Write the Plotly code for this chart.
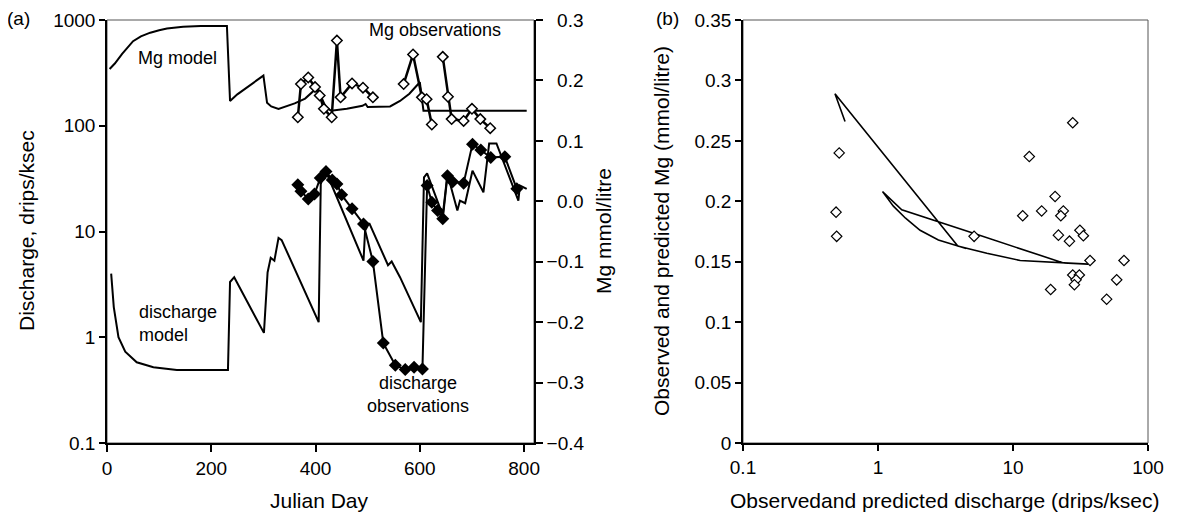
import plotly.graph_objects as go

# ---------------- data ----------------
# Panel (a): discharge model (left log axis)
dis_model_day = [8, 13, 22, 35, 57, 89, 134, 232, 236, 244, 301, 308, 314, 321, 329, 335,
                 406, 410, 418, 492, 495, 503, 539, 546, 562, 602, 608, 614, 644, 653,
                 672, 677, 687, 701, 722, 733, 747, 789, 792, 805]
dis_model_val = [4.0, 1.93, 1.0, 0.73, 0.58, 0.52, 0.49, 0.49, 3.33, 3.7, 1.1, 4.1, 5.65, 5.3, 8.7, 8.3,
                 1.39, 28, 39, 5.3, 10.2, 12, 4.8, 5.2, 3.7, 1.39, 32.5, 35.5, 14.2, 35,
                 15.8, 19.6, 18.5, 37.6, 23.5, 68, 68, 19.6, 27.2, 25.3]

# Panel (a): discharge observations (left log axis)
dis_obs_day = [366, 372, 386, 398, 409, 420, 432, 441, 450, 470, 492, 510, 530, 553, 572, 589, 605,
               614, 623, 634, 644, 653, 663, 684, 701, 717, 736, 763, 786]
dis_obs_val = [27.7, 24, 20.3, 22.6, 32, 37, 30.7, 28.2, 22.2, 16.4, 11.8, 5.2, 0.88, 0.545, 0.495, 0.52, 0.5,
               27.2, 18.9, 15.8, 13.2, 33.7, 29.6, 28.6, 67, 59, 50, 51, 25.3]

# Panel (a): Mg model (right axis)
mg_model_day = [5, 15, 29, 40, 50, 65, 83, 100, 115, 146, 180, 230, 236, 250, 270, 300, 307, 315,
                329, 360, 380, 403, 420, 430, 460, 490, 496, 500, 543, 562, 580, 600, 607, 650,
                700, 750, 805]
mg_model_val = [0.219, 0.228, 0.244, 0.256, 0.265, 0.273, 0.279, 0.283, 0.286, 0.289, 0.290, 0.290,
                0.166, 0.177, 0.190, 0.208, 0.163, 0.157, 0.153, 0.162, 0.170, 0.188, 0.155, 0.150,
                0.153, 0.158, 0.161, 0.156, 0.157, 0.166, 0.178, 0.197, 0.150, 0.150, 0.151, 0.150,
                0.150]

# Panel (a): Mg observations (right axis); None = gap in the record
mg_obs_day = [366, 372, 386, 399, 408, 416, 431, 441, 448, 470, 491, 510, None,
              569, 587, 604, 613, 623, None, 644, 654, 661, 684, 700, 716, 735]
mg_obs_val = [0.139, 0.194, 0.205, 0.189, 0.175, 0.153, 0.139, 0.266, 0.172, 0.195, 0.188, 0.172, None,
              0.194, 0.243, 0.172, 0.169, 0.127, None, 0.239, 0.173, 0.136, 0.133, 0.153, 0.136, 0.121]

# Panel (b): observed discharge vs Mg
b_obs_q = [0.516, 0.489, 0.494, 5.15, 13.2, 11.8, 16.3, 20.5, 23.6, 22.6, 27.7, 21.7, 26.2, 31.3,
           33.2, 37.2, 66.4, 27.7, 31, 29.3, 28.5, 58.6, 19, 49.4]
b_obs_mg = [0.240, 0.191, 0.171, 0.171, 0.237, 0.188, 0.192, 0.204, 0.192, 0.188, 0.265, 0.172,
            0.167, 0.176, 0.1715, 0.151, 0.151, 0.139, 0.139, 0.135, 0.131, 0.135, 0.127, 0.119]

# Panel (b): predicted discharge vs Mg (model path)
b_model_q = [0.57, 0.48, 3.9, 6.4, 11.3, 25, 36, 23.6, 5.1, 1.5, 1.08, 1.3, 1.6, 2.05, 2.8, 3.6, 4.5]
b_model_mg = [0.266, 0.289, 0.163, 0.157, 0.151, 0.1487, 0.148, 0.149, 0.1735, 0.193, 0.208,
              0.196, 0.186, 0.176, 0.168, 0.164, 0.161]

# tick labels
a_x_ticks = [0, 200, 400, 600, 800]
a_y_ticks = [0.1, 1, 10, 100, 1000]
a_y_ticktext = ["0.1", "1", "10", "100", "1000"]
a_y2_ticks = [-0.4, -0.3, -0.2, -0.1, 0.0, 0.1, 0.2, 0.3]
a_y2_ticktext = ["\u22120.4", "\u22120.3", "\u22120.2", "\u22120.1", "0.0", "0.1", "0.2", "0.3"]
b_x_ticks = [0.1, 1, 10, 100]
b_x_ticktext = ["0.1", "1", "10", "100"]

# right-align the right-axis labels (pad the unsigned ones by about a minus sign's width)
a_y2_labels = [t if t.startswith("\u2212") else "\u00a0\u00a0" + t for t in a_y2_ticktext]

# ---------------- layout helpers ----------------
# the page body adds an 8 px margin, so the figure is drawn 8 px in from the window corner
OX, OY = 8, 8
W, H = 1177 - OX, 514 - OY


def px(X):
    return (X - OX) / W


def py(Y):
    return 1 - (Y - OY) / H


FONT = "Liberation Sans, Arial, sans-serif"
TICKF = dict(family=FONT, size=19, color="black")
ydom = [py(443), py(20)]

fig = go.Figure()

fig.add_trace(go.Scatter(x=dis_model_day, y=dis_model_val, mode="lines", xaxis="x", yaxis="y",
                         line=dict(color="black", width=2), name="discharge model"))
fig.add_trace(go.Scatter(x=dis_obs_day, y=dis_obs_val, mode="lines+markers", xaxis="x", yaxis="y",
                         line=dict(color="black", width=2),
                         marker=dict(symbol="diamond", size=10, color="black"),
                         name="discharge observations"))
fig.add_trace(go.Scatter(x=mg_model_day, y=mg_model_val, mode="lines", xaxis="x", yaxis="y2",
                         line=dict(color="black", width=2), name="Mg model"))
fig.add_trace(go.Scatter(x=mg_obs_day, y=mg_obs_val, mode="lines+markers", xaxis="x", yaxis="y2",
                         connectgaps=False, line=dict(color="black", width=2.5),
                         marker=dict(symbol="diamond", size=8, color="white",
                                     line=dict(color="black", width=1.5)),
                         name="Mg observations"))
fig.add_trace(go.Scatter(x=b_model_q, y=b_model_mg, mode="lines", xaxis="x2", yaxis="y3",
                         line=dict(color="black", width=1.6), name="model"))
fig.add_trace(go.Scatter(x=b_obs_q, y=b_obs_mg, mode="markers", xaxis="x2", yaxis="y3",
                         marker=dict(symbol="diamond", size=8, color="white",
                                     line=dict(color="black", width=1.2)),
                         name="observed"))

axis_common = dict(showgrid=False, zeroline=False, showline=True, linecolor="black", linewidth=1.5,
                   ticks="outside", tickcolor="black", tickwidth=1.5, tickfont=TICKF,
                   automargin=False)

fig.update_layout(
    width=W, height=H, showlegend=False,
    margin=dict(l=0, r=0, t=0, b=0, pad=0, autoexpand=False),
    paper_bgcolor="white", plot_bgcolor="white",
    font=dict(family=FONT, color="black"),
    xaxis=dict(domain=[px(107), px(534)], range=[0, 819], tickvals=a_x_ticks, anchor="y",
               ticklen=7, **axis_common),
    yaxis=dict(domain=ydom, type="log", range=[-1, 3], tickvals=a_y_ticks, ticktext=a_y_ticktext,
               anchor="x", ticklen=6, **axis_common),
    yaxis2=dict(overlaying="y", side="right", anchor="x", range=[-0.4, 0.3], tickvals=a_y2_ticks,
                ticktext=a_y2_labels, ticklen=7, **axis_common),
    # inner half of the crossing ticks on the right axis of panel (a)
    yaxis4=dict(overlaying="y", side="right", anchor="x", range=[-0.4, 0.3], tickvals=a_y2_ticks,
                showticklabels=False, ticks="inside", ticklen=7, tickwidth=1.5, tickcolor="black",
                showline=False, showgrid=False, zeroline=False, automargin=False),
    xaxis2=dict(domain=[px(743), px(1148)], type="log", range=[-1, 2], tickvals=b_x_ticks,
                ticktext=b_x_ticktext, anchor="y3", ticklen=6, **axis_common),
    yaxis3=dict(domain=ydom, range=[0, 0.35], dtick=0.05, anchor="x2", ticklen=6, **axis_common),
)

# thin frame (top / right borders)
for xr, yr in (("x", "y"), ("x2", "y3")):
    fig.add_shape(type="rect", xref=f"{xr} domain", yref=f"{yr} domain", x0=0, x1=1, y0=0, y1=1,
                  line=dict(color="#555555", width=1), layer="below")

ANN = dict(family=FONT, size=18, color="black")
TIT = dict(family=FONT, size=21, color="black")


def note(text, X, Y, font=ANN, angle=0, xanchor="center", align="center"):
    fig.add_annotation(text=text, xref="paper", yref="paper", x=px(X), y=py(Y), showarrow=False,
                       font=font, textangle=angle, xanchor=xanchor, yanchor="middle", align=align)


note("(a)", 18, 19, font=TICKF)
note("(b)", 668, 19, font=TICKF)
note("Mg model", 177, 58)
note("Mg observations", 435, 30)
note("discharge<br>model", 137, 323, xanchor="left", align="left")
note("discharge<br>observations", 418, 394)
note("Discharge, drips/ksec", 26, 231, font=TIT, angle=-90)
note("Mg mmol/litre", 603, 231, font=TIT, angle=-90)
note("Julian Day", 319, 500, font=TIT)
note("Observed and predicted Mg (mmol/litre)", 661, 231, font=TIT, angle=-90)
note("Observedand predicted discharge (drips/ksec)", 945, 500, font=TIT)

fig.write_html("out.html")
